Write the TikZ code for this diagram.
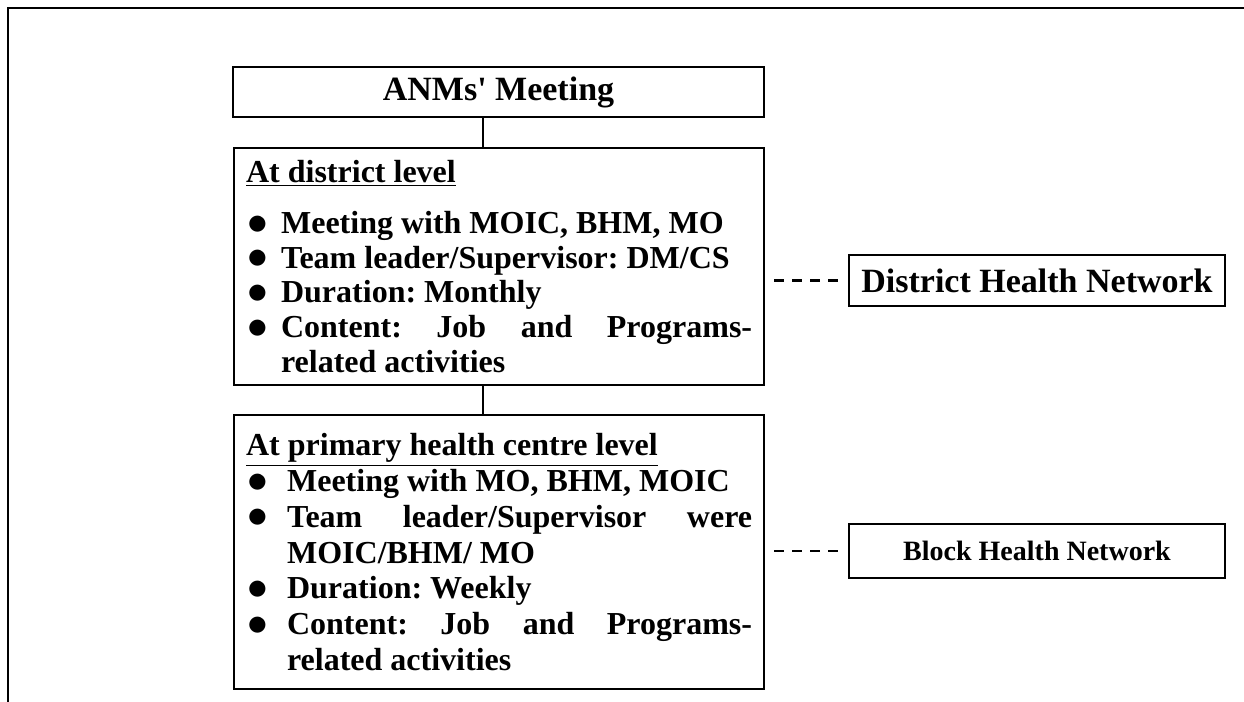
\documentclass[tikz,border=0pt]{standalone}
\usepackage{fontspec}
\setmainfont{Liberation Serif}
\usepackage{graphicx}
\usepackage{tikz}

\newcommand{\bigdot}{\raisebox{-0.05ex}{\scalebox{1.2}{$\bullet$}}}
\newcommand{\dotitem}[2][20.5pt]{\par\noindent\hangindent=#1\hangafter=1\makebox[#1][l]{\hspace{0.5pt}\bigdot}#2\par}

\tikzset{
  box/.style={draw, line width=1.1pt, inner sep=0pt},
  listbox/.style={box, anchor=north west, text width=253pt, inner xsep=6pt, align=justify},
  listfont/.style={font=\bfseries\frenchspacing\fontsize{16pt}{#1}\selectfont},
  netbox/.style={box, minimum width=188pt, minimum height=25.5pt},
  link/.style={line width=1.1pt},
  netlink/.style={line width=1.2pt, dash pattern=on 5pt off 4pt,
    shorten <=4.5pt, shorten >=4.5pt}
}

\begin{document}
\begin{tikzpicture}[x=0.5pt,y=-0.5pt]

\useasboundingbox (0,0) rectangle (1244,702);
\draw[line width=1.1pt] (8,702) -- (8,8) -- (1244,8);

\coordinate (spine) at (483,0);

\node[box, minimum width=265.5pt, minimum height=25pt,
  font=\bfseries\fontsize{17pt}{18pt}\selectfont] (meet) at (498.5,92) {ANMs\textquotesingle{} Meeting};

\node[listbox, listfont=17.4pt, minimum height=118.5pt] (dist) at (233,147) {%
\underline{At district level}\par\vspace{8pt}
\dotitem[17.5pt]{Meeting with MOIC, BHM, MO}
\dotitem[17.5pt]{Team leader/Supervisor: DM/CS}
\dotitem[17.5pt]{Duration: Monthly}
\dotitem[17.5pt]{Content: Job and Programs-\linebreak related activities}};

\node[listbox, listfont=17.9pt, minimum height=137pt] (phc) at (233,414) {%
\underline{At primary health centre level}
\dotitem{Meeting with MO, BHM, MOIC}
\dotitem{Team leader/Supervisor were\linebreak MOIC/BHM/ MO}
\dotitem{Duration: Weekly}
\dotitem{Content: Job and Programs-\linebreak related activities}};

\node[netbox, font=\bfseries\fontsize{17pt}{18pt}\selectfont] (dhn) at (1037,280.5) {District Health Network};
\node[netbox, minimum height=27pt, font=\bfseries\fontsize{14pt}{15pt}\selectfont] (bhn) at (1037,551) {Block Health Network};

\draw[link] (meet.south -| spine) -- (dist.north -| spine);
\draw[link] (dist.south -| spine) -- (phc.north -| spine);

\draw[netlink] (dist.east |- dhn.west) -- (dhn.west);
\draw[netlink] (phc.east |- bhn.west) -- (bhn.west);

\end{tikzpicture}
\end{document}
